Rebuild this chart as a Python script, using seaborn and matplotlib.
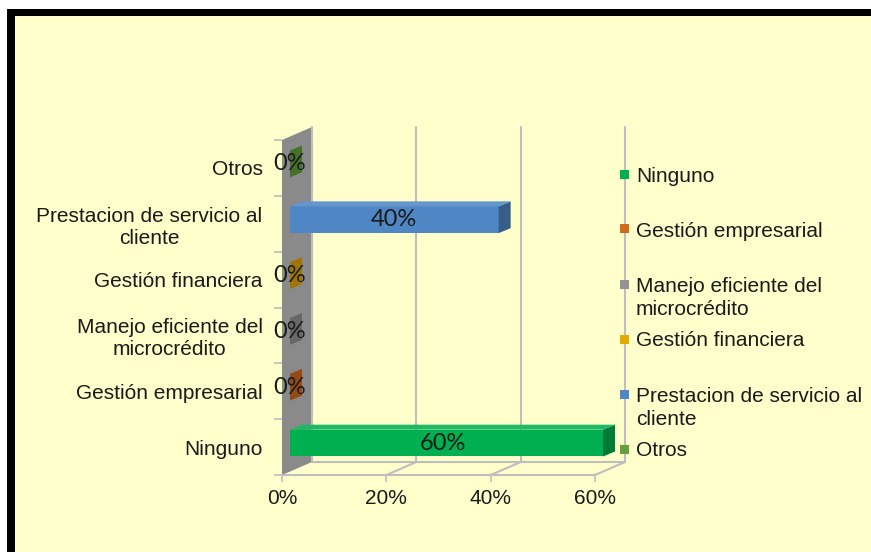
import numpy as np
import pandas as pd
import matplotlib
matplotlib.use("Agg")
import matplotlib.pyplot as plt
from matplotlib.patches import Polygon, Rectangle
from matplotlib.lines import Line2D
import matplotlib.colors as mcolors
import seaborn as sns

# ---- data -------------------------------------------------------------
categories = [
    "Ninguno",
    "Gestión empresarial",
    "Manejo eficiente del\nmicrocrédito",
    "Gestión financiera",
    "Prestacion de servicio al\ncliente",
    "Otros",
]
shares = [60, 0, 0, 0, 40, 0]          # percent
colors = ["#00B050", "#D2691F", "#939393", "#E5A800", "#4F86C4", "#66A03E"]
x_ticks = [0, 20, 40, 60]
x_tick_labels = ["0%", "20%", "40%", "60%"]

# ---- figure -----------------------------------------------------------
W, H, DPI = 871, 552, 100
sns.set_theme(style="white")
plt.rcParams["font.family"] = ["Liberation Sans", "DejaVu Sans"]

fig = plt.figure(figsize=(W / DPI, H / DPI), dpi=DPI)
fig.patch.set_facecolor("white")


def fx(px):
    return px / W


def fy(py):
    return 1 - py / H


# black frame with pale yellow panel
fig.patches.append(Rectangle((fx(7), 0), 1, fy(9), transform=fig.transFigure,
                             facecolor="black", edgecolor="none", zorder=-3))
fig.patches.append(Rectangle((fx(15), 0), 1, fy(16), transform=fig.transFigure,
                             facecolor="#FFFFCC", edgecolor="none", zorder=-2))

# front plane of the 3D plot box
left, right, top, bottom = 282, 595, 140, 475
ax = fig.add_axes([fx(left), fy(bottom), fx(right - left), (bottom - top) / H])
ax.patch.set_alpha(0)

df = pd.DataFrame({"categoria": categories, "valor": np.array(shares) / 100})
sns.barplot(data=df, x="valor", y="categoria", hue="categoria", order=categories,
            hue_order=categories, palette=colors, saturation=1, orient="h",
            width=0.48, legend=False, ax=ax, edgecolor="none", linewidth=0)

n = len(categories)
xmax = x_ticks[-1] / 100
ax.set_xlim(0, xmax)
ax.set_ylim(-0.5, n - 0.5)

# pixel -> data scale factors
sx = xmax / (right - left)
sy = n / (bottom - top)

WALL = (30 * sx, 13 * sy)     # depth of the whole box
GAP = (8 * sx, 4 * sy)        # bars sit a little behind the front plane
DEPTH = (12 * sx, 5 * sy)     # thickness of each bar

grid_c = "#BEBEBE"
y0, y1 = -0.5, n - 0.5

# left wall
ax.add_patch(Polygon([(0, y0), (WALL[0], y0 + WALL[1]), (WALL[0], y1 + WALL[1]), (0, y1)],
                     closed=True, facecolor="#8A8A8A", edgecolor="none", zorder=0.5,
                     clip_on=False))

# back-wall gridlines, floor lines
for t in np.array(x_ticks) / 100:
    ax.add_line(Line2D([t + WALL[0], t + WALL[0]], [y0 + WALL[1], y1 + WALL[1]],
                       color=grid_c, lw=1.5, zorder=0.6, clip_on=False))
    if t > 0:
        ax.add_line(Line2D([t, t + WALL[0]], [y0, y0 + WALL[1]],
                           color=grid_c, lw=1.5, zorder=0.6, clip_on=False))
ax.add_line(Line2D([0, xmax], [y0, y0], color=grid_c, lw=1.5, zorder=0.6, clip_on=False))
ax.add_line(Line2D([WALL[0], xmax + WALL[0]], [y0 + WALL[1], y0 + WALL[1]],
                   color=grid_c, lw=1.5, zorder=0.6, clip_on=False))


def shade(c, f):
    r, g, b = mcolors.to_rgb(c)
    return (r * f, g * f, b * f)


def tint(c, f):
    r, g, b = mcolors.to_rgb(c)
    return (r + (1 - r) * f, g + (1 - g) * f, b + (1 - b) * f)


# turn the flat bars into slabs
for container, col in zip(ax.containers, colors):
    for bar in container:
        bar.set_x(bar.get_x() + GAP[0])
        bar.set_y(bar.get_y() + GAP[1])
        bar.set_zorder(2)
        bar.set_clip_on(False)
        bx0, by0 = bar.get_x(), bar.get_y()
        bx1, by1 = bx0 + bar.get_width(), by0 + bar.get_height()
        side = [(bx1, by0), (bx1 + DEPTH[0], by0 + DEPTH[1]),
                (bx1 + DEPTH[0], by1 + DEPTH[1]), (bx1, by1)]
        ax.add_patch(Polygon(side, closed=True, facecolor=shade(col, 0.7),
                             edgecolor="none", zorder=2, clip_on=False))
        if bar.get_width() > 0:
            topf = [(bx0, by1), (bx1, by1), (bx1 + DEPTH[0], by1 + DEPTH[1]),
                    (bx0 + DEPTH[0], by1 + DEPTH[1])]
            ax.add_patch(Polygon(topf, closed=True, facecolor=tint(col, 0.12),
                                 edgecolor="none", zorder=2, clip_on=False))

# value labels
for container, v in zip(ax.containers, shares):
    ax.bar_label(container, labels=[f"{v}%"], label_type="center",
                 fontsize=17, family=["Lato", "DejaVu Sans"], color="#1A1A1A",
                 zorder=4, clip_on=False)

# axes cosmetics
for s in ax.spines.values():
    s.set_visible(False)
ax.set_xlabel("")
ax.set_ylabel("")
ax.set_xticks(np.array(x_ticks) / 100)
ax.set_xticklabels(x_tick_labels)
ax.set_yticks(range(n))
ax.set_yticklabels(categories)
for lbl in ax.get_yticklabels():
    lbl.set_multialignment("center")
ax.set_yticks(np.arange(-0.5, n, 1), minor=True)
ax.tick_params(axis="x", which="major", bottom=True, length=5, width=1.2,
               color=grid_c, labelsize=15, labelcolor="#1A1A1A", pad=5)
ax.tick_params(axis="y", which="major", left=True, length=0, labelsize=15,
               labelcolor="#1A1A1A", pad=14)
ax.tick_params(axis="y", which="minor", left=True, length=6, width=1.2, color=grid_c)

# legend, one slot per category; wrapped names continue on the next line
for i, (cat, col) in enumerate(zip(categories, colors)):
    ypx = 174 + 55 * i
    fig.patches.append(Rectangle((fx(620), fy(ypx + 4.5)), fx(9), 9 / H,
                                 transform=fig.transFigure, facecolor=col,
                                 edgecolor="none", zorder=5))
    for j, line in enumerate(cat.split("\n")):
        fig.text(fx(636), fy(ypx + 7.5 + 23.5 * j), line, fontsize=15,
                 color="#1A1A1A", ha="left", va="baseline")

fig.savefig("out.png", dpi=DPI, facecolor=fig.get_facecolor())
